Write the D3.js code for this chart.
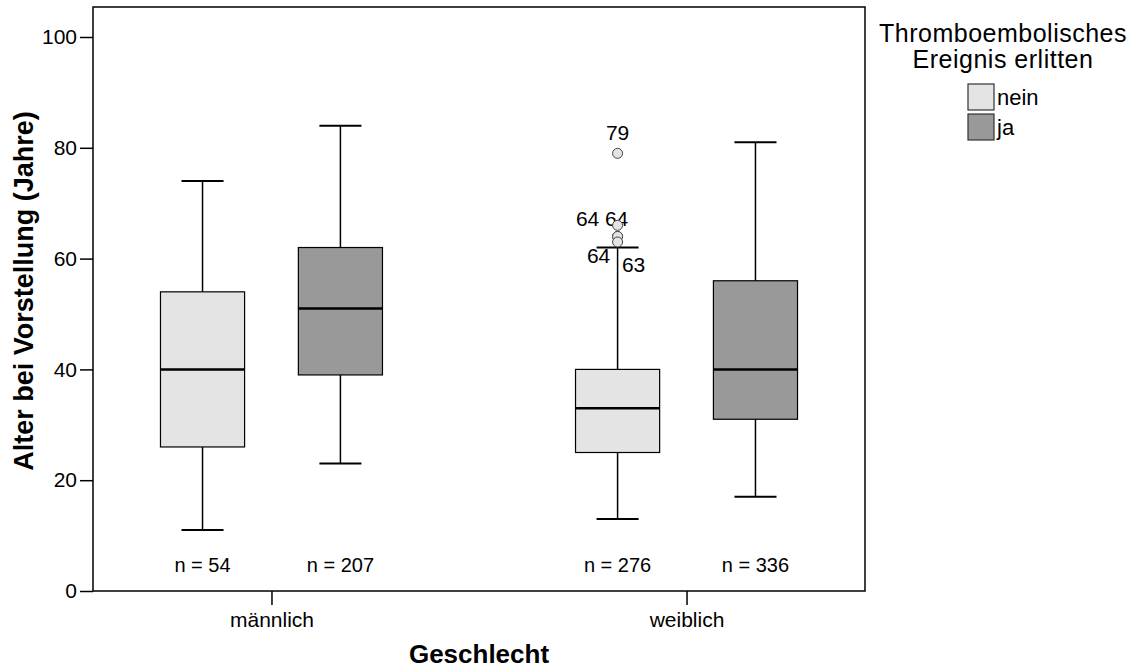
<!DOCTYPE html>
<html lang="de">
<head>
<meta charset="utf-8">
<title>Alter bei Vorstellung</title>
<script src="https://cdnjs.cloudflare.com/ajax/libs/d3/7.8.5/d3.min.js"></script>
<style>
  body { margin: 0; background: #fff; }
  text { font-family: "Liberation Sans", Arial, sans-serif; fill: #000; }
</style>
</head>
<body>
<script>
// data
var genders = ["männlich", "weiblich"];
var events = ["nein", "ja"];
var eventColors = ["#e4e4e4", "#999999"];
// [whisker low, q1, median, q3, whisker high], per gender then event
var stats = [
  [[11, 26, 40, 54, 74], [23, 39, 51, 62, 84]],
  [[13, 25, 33, 40, 62], [17, 31, 40, 56, 81]]
];
var counts = [[54, 207], [276, 336]];
// outliers: gender, event, value, case label
var outGender = [1, 1, 1, 1, 1];
var outEvent = [0, 0, 0, 0, 0];
var outValue = [79, 66, 64, 64, 63];
var outLabel = ["79", "64", "64", "64", "63"];
var yTicks = [0, 20, 40, 60, 80, 100];

// label offsets for outlier numbers (dx, dy from point)
var outLabelOffset = [[0, -13], [-1, 1], [-30, -10], [-19, 27], [16, 30]];

var w = 1141, h = 670;
var mLeft = 93, mRight = 865, mTop = 7, mBottom = 591;

var svg = d3.select("body").append("svg")
  .attr("width", w)
  .attr("height", h);

var y = d3.scaleLinear().domain([0, 100]).range([mBottom, 37]);
var x = d3.scalePoint().domain(genders).range([mLeft, mRight]).padding(0.43);
var sub = d3.scaleBand().domain(events).range([-111, 111]).paddingInner(0.39);
var bw = sub.bandwidth();

// frame
svg.append("rect")
  .attr("x", mLeft).attr("y", mTop)
  .attr("width", mRight - mLeft).attr("height", mBottom - mTop)
  .attr("fill", "none").attr("stroke", "#000").attr("stroke-width", 1.5);

// y axis
var yAxis = svg.append("g")
  .attr("transform", "translate(" + mLeft + ",0)")
  .call(d3.axisLeft(y).tickValues(yTicks).tickSize(13).tickPadding(3));
yAxis.select(".domain").remove();
yAxis.selectAll("line").attr("stroke", "#000").attr("stroke-width", 1.5);
yAxis.selectAll("text").style("font-size", "21px").style("font-family", "'Liberation Sans', Arial, sans-serif");

// x axis
var xAxis = svg.append("g")
  .attr("transform", "translate(0," + mBottom + ")")
  .call(d3.axisBottom(x).tickSize(14).tickPadding(7));
xAxis.select(".domain").remove();
xAxis.selectAll("line").attr("stroke", "#000").attr("stroke-width", 1.5);
xAxis.selectAll("text").style("font-size", "21px").style("font-family", "'Liberation Sans', Arial, sans-serif");

// axis titles
svg.append("text")
  .attr("transform", "translate(33,291) rotate(-90)")
  .attr("text-anchor", "middle")
  .style("font-size", "27px").style("font-weight", "bold")
  .text("Alter bei Vorstellung (Jahre)");

svg.append("text")
  .attr("x", (mLeft + mRight) / 2).attr("y", 663)
  .attr("text-anchor", "middle")
  .style("font-size", "26px").style("font-weight", "bold")
  .text("Geschlecht");

// flatten stats into boxes
var boxes = [];
genders.forEach(function(g, gi) {
  events.forEach(function(e, ei) {
    var s = stats[gi][ei];
    boxes.push({ g: g, e: e, ei: ei, lo: s[0], q1: s[1], med: s[2], q3: s[3], hi: s[4], n: counts[gi][ei] });
  });
});

function cx(d) { return x(d.g) + sub(d.e) + bw / 2; }

var bx = svg.selectAll("g.box")
  .data(boxes)
  .enter()
  .append("g")
  .attr("class", "box");

// whiskers
bx.append("line")
  .attr("x1", cx).attr("x2", cx)
  .attr("y1", function(d) { return y(d.hi); })
  .attr("y2", function(d) { return y(d.lo); })
  .attr("stroke", "#000").attr("stroke-width", 1.5);

bx.selectAll("line.cap")
  .data(function(d) { return [d.lo, d.hi].map(function(v) { return { d: d, v: v }; }); })
  .enter()
  .append("line")
  .attr("class", "cap")
  .attr("x1", function(c) { return cx(c.d) - bw / 4; })
  .attr("x2", function(c) { return cx(c.d) + bw / 4; })
  .attr("y1", function(c) { return y(c.v); })
  .attr("y2", function(c) { return y(c.v); })
  .attr("stroke", "#000").attr("stroke-width", 2);

// box
bx.append("rect")
  .attr("x", function(d) { return cx(d) - bw / 2; })
  .attr("y", function(d) { return y(d.q3); })
  .attr("width", bw)
  .attr("height", function(d) { return y(d.q1) - y(d.q3); })
  .attr("fill", function(d) { return eventColors[d.ei]; })
  .attr("stroke", "#000").attr("stroke-width", 1.2);

// median
bx.append("line")
  .attr("x1", function(d) { return cx(d) - bw / 2; })
  .attr("x2", function(d) { return cx(d) + bw / 2; })
  .attr("y1", function(d) { return y(d.med); })
  .attr("y2", function(d) { return y(d.med); })
  .attr("stroke", "#000").attr("stroke-width", 2.5);

// n labels
bx.append("text")
  .attr("x", cx)
  .attr("y", 572)
  .attr("text-anchor", "middle")
  .style("font-size", "20px")
  .text(function(d) { return "n = " + d.n; });

// outliers
var outs = outValue.map(function(v, i) {
  return { g: genders[outGender[i]], e: events[outEvent[i]], v: v, label: outLabel[i], off: outLabelOffset[i] };
});

svg.selectAll("text.outlab")
  .data(outs)
  .enter()
  .append("text")
  .attr("class", "outlab")
  .attr("x", function(d) { return cx(d) + d.off[0]; })
  .attr("y", function(d) { return y(d.v) + d.off[1]; })
  .attr("text-anchor", "middle")
  .style("font-size", "21px")
  .text(function(d) { return d.label; });

svg.selectAll("circle.out")
  .data(outs)
  .enter()
  .append("circle")
  .attr("class", "out")
  .attr("cx", cx)
  .attr("cy", function(d) { return y(d.v); })
  .attr("r", 5)
  .attr("fill", "#e4e4e4")
  .attr("stroke", "#444").attr("stroke-width", 1);

// legend
var lg = svg.append("g");
lg.append("text")
  .attr("x", 1003).attr("y", 42)
  .attr("text-anchor", "middle")
  .style("font-size", "25px")
  .style("letter-spacing", "0.5px")
  .text("Thromboembolisches");
lg.append("text")
  .attr("x", 1003).attr("y", 68)
  .attr("text-anchor", "middle")
  .style("font-size", "25px")
  .style("letter-spacing", "0.5px")
  .text("Ereignis erlitten");

var li = lg.selectAll("g.item")
  .data(events)
  .enter()
  .append("g")
  .attr("class", "item")
  .attr("transform", function(d, i) { return "translate(968," + (84 + i * 30) + ")"; });

li.append("rect")
  .attr("width", 26).attr("height", 26)
  .attr("fill", function(d, i) { return eventColors[i]; })
  .attr("stroke", "#333").attr("stroke-width", 1.2);

li.append("text")
  .attr("x", 29).attr("y", 21)
  .style("font-size", "22px")
  .text(function(d) { return d; });
</script>
</body>
</html>
